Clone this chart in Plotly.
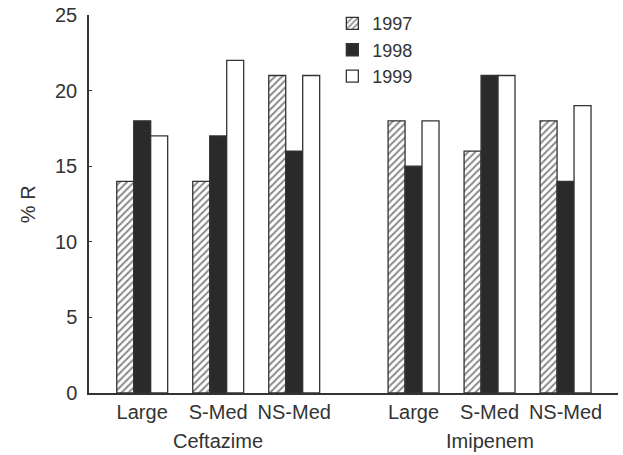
import plotly.graph_objects as go

categories = ["Large", "S-Med", "NS-Med", "Large", "S-Med", "NS-Med"]
drugs = ["Ceftazime", "Imipenem"]
years = ["1997", "1998", "1999"]
vals_1997 = [14, 14, 21, 18, 16, 18]
vals_1998 = [18, 17, 16, 15, 21, 14]
vals_1999 = [17, 22, 21, 18, 21, 19]
yticks = [0, 5, 10, 15, 20, 25]

# category positions: two groups of three with a gap between them
gap = 1.57
xpos = [i + (gap - 1 if i >= 3 else 0) for i in range(len(categories))]

FONT = "Liberation Sans, Arial, sans-serif"
TXT = "#333333"
LINE = "#333333"

fig = go.Figure()
fig.add_trace(go.Bar(
    x=xpos, y=vals_1997, name=years[0],
    marker=dict(color="white", line=dict(color=LINE, width=1.3),
                pattern=dict(shape="/", fgcolor="#111111", bgcolor="white", size=5, solidity=0.4)),
))
fig.add_trace(go.Bar(
    x=xpos, y=vals_1998, name=years[1],
    marker=dict(color="#2a2a2a", line=dict(color=LINE, width=1.3)),
))
fig.add_trace(go.Bar(
    x=xpos, y=vals_1999, name=years[2],
    marker=dict(color="white", line=dict(color=LINE, width=1.3)),
))

fig.update_layout(
    width=623, height=455,
    margin=dict(l=89, r=5, t=15, b=62, autoexpand=False),
    paper_bgcolor="white", plot_bgcolor="white",
    barmode="group", bargap=0.33, bargroupgap=0,
    font=dict(family=FONT, size=20, color=TXT),
    showlegend=True,
    legend=dict(x=0.46, y=1.026, xanchor="left", yanchor="top",
                bgcolor="rgba(0,0,0,0)", font=dict(size=18, color=TXT),
                itemwidth=30, tracegroupgap=0),
    xaxis=dict(
        range=[-0.70, 6.26], tickmode="array", tickvals=xpos, ticktext=categories,
        showline=True, linecolor=LINE, linewidth=1.5, showgrid=False, zeroline=False,
        ticks="", tickfont=dict(size=20, color=TXT), automargin=False,
    ),
    yaxis=dict(
        range=[0, 25], tickmode="array", tickvals=yticks,
        showline=True, linecolor=LINE, linewidth=1.5, showgrid=False, zeroline=False,
        ticks="inside", ticklen=3, tickcolor=LINE, tickwidth=1.2, ticklabelstandoff=6,
        tickfont=dict(size=20, color=TXT), automargin=False,
    ),
)

fig.add_annotation(x=-0.115, y=0.5, xref="paper", yref="paper", text="% R",
                   textangle=-90, showarrow=False, font=dict(size=20, color=TXT),
                   xanchor="center", yanchor="middle")

group_centers = [sum(xpos[0:3]) / 3, sum(xpos[3:6]) / 3]
for name, cx in zip(drugs, group_centers):
    fig.add_annotation(x=cx, y=0, xref="x", yref="paper", yshift=-48, text=name,
                       showarrow=False, font=dict(size=20, color=TXT), yanchor="middle")

fig.write_html("out.html", config={"displayModeBar": False},
               post_script="document.body.style.margin='0';")
